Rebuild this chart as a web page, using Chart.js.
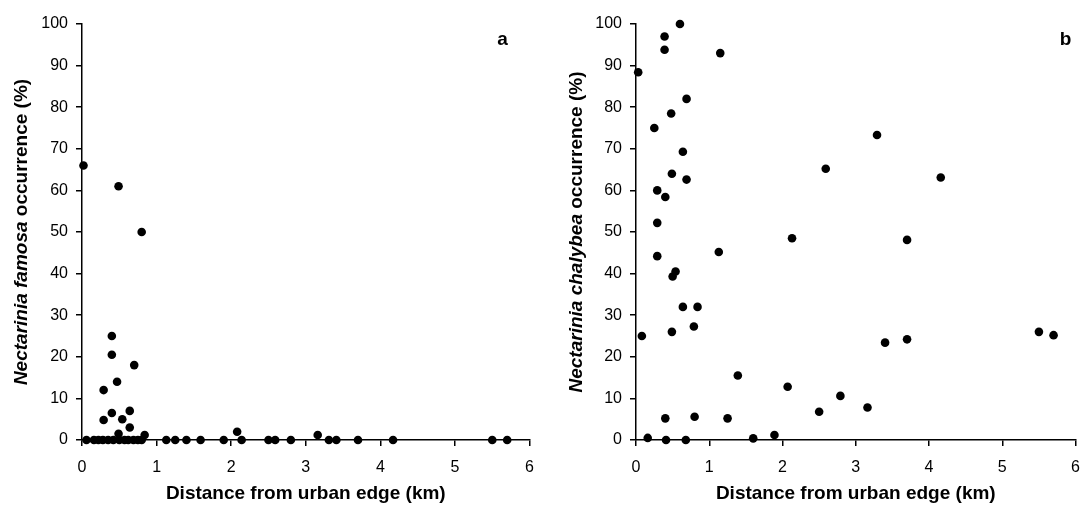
<!DOCTYPE html>
<html lang="en">
<head>
<meta charset="UTF-8">
<title>Nectarinia occurrence vs distance from urban edge</title>
<script src="https://cdn.jsdelivr.net/npm/chart.js"></script>
<style>
  body { margin: 0; background: #fff; }
  #wrap { position: relative; width: 1092px; height: 505px; }
  canvas { position: absolute; top: 0; }
</style>
</head>
<body>
<div id="wrap">
  <canvas id="chartA" width="546" height="505" style="left:0"></canvas>
  <canvas id="chartB" width="546" height="505" style="left:546px"></canvas>
</div>
<script>
// panel a: Nectarinia famosa
const aX = [0.02, 0.49, 0.80, 0.40, 0.40, 0.70, 0.47, 0.29, 0.40, 0.64, 0.29, 0.54, 0.64, 0.49, 0.84, 2.08, 3.16,
            0.06, 0.16, 0.22, 0.28, 0.35, 0.42, 0.50, 0.57, 0.62, 0.69, 0.75, 0.80, 1.13, 1.25, 1.40,
            1.59, 1.90, 2.14, 2.50, 2.59, 2.80, 3.31, 3.41, 3.70, 4.17, 5.50, 5.70];
const aY = [66, 61, 50, 25, 20.5, 18, 14, 12, 6.5, 7, 4.8, 5, 3, 1.5, 1.2, 2, 1.2,
            0, 0, 0, 0, 0, 0, 0, 0, 0, 0, 0, 0, 0, 0, 0,
            0, 0, 0, 0, 0, 0, 0, 0, 0, 0, 0, 0];

// panel b: Nectarinia chalybea
const bX = [0.60, 0.39, 0.39, 1.15, 0.03, 0.69, 0.48, 0.25, 0.64, 0.49, 0.69, 0.29, 0.40, 0.29, 2.13,
            2.59, 0.29, 1.13, 0.50, 0.54, 0.64, 0.84, 0.79, 0.49, 0.08, 1.39, 2.07, 2.50, 0.40, 0.80,
            1.25, 0.16, 0.41, 0.68, 1.60, 1.89, 3.29, 4.16, 3.70, 3.40, 3.70, 5.50, 5.70, 2.79, 3.16];
const bY = [100, 97, 93.8, 93, 88.4, 82, 78.5, 75, 69.3, 64, 62.6, 60, 58.4, 52.2, 48.5,
            65.2, 44.2, 45.2, 39.3, 40.5, 32, 32, 27.3, 26, 25, 15.5, 12.8, 6.8, 5.2, 5.6,
            5.2, 0.5, 0, 0, 0.4, 1.2, 73.3, 63.1, 48.1, 23.4, 24.2, 26, 25.2, 10.6, 7.8];

const xTitle = 'Distance from urban edge (km)';
const FONT = '"Liberation Sans", Arial, sans-serif';

Chart.defaults.font.family = FONT;
Chart.defaults.color = '#000';

// y title with italic species name + panel letter
const sideLabels = {
  id: 'sideLabels',
  afterDraw(chart, args, opts) {
    const ctx = chart.ctx, area = chart.chartArea;
    ctx.save();
    ctx.fillStyle = '#000';
    ctx.textBaseline = 'middle';
    ctx.textAlign = 'left';
    ctx.translate(opts.titleX, (area.top + area.bottom) / 2);
    ctx.rotate(-Math.PI / 2);
    const parts = [
      [opts.species, 'italic bold 19px ' + FONT],
      [' occurrence (%)', 'bold 19px ' + FONT]
    ];
    let total = 0;
    parts.forEach(p => { ctx.font = p[1]; total += ctx.measureText(p[0]).width; });
    let x = -total / 2;
    parts.forEach(p => { ctx.font = p[1]; ctx.fillText(p[0], x, 0); x += ctx.measureText(p[0]).width; });
    ctx.restore();

    ctx.save();
    ctx.fillStyle = '#000';
    ctx.font = 'bold 19px ' + FONT;
    ctx.textAlign = 'center';
    ctx.textBaseline = 'middle';
    ctx.fillText(opts.letter, area.right - opts.letterOffset, area.top + 16);
    ctx.restore();
  }
};

function makeScales(yWidth) {
  return {
    x: {
      type: 'linear', min: 0, max: 6,
      ticks: { stepSize: 1, font: { size: 16 }, padding: 12 },
      grid: { display: true, drawOnChartArea: false, drawTicks: true, tickLength: 6, color: '#000', lineWidth: 1.5 },
      border: { color: '#000', width: 1.5 },
      title: { display: true, text: xTitle, font: { size: 19, weight: 'bold' }, padding: { top: 0, bottom: 0 } },
      afterFit: s => { s.height = 65; }
    },
    y: {
      type: 'linear', min: 0, max: 100,
      ticks: { stepSize: 10, font: { size: 16 }, padding: 8 },
      grid: { display: true, drawOnChartArea: false, drawTicks: true, tickLength: 6, color: '#000', lineWidth: 1.5 },
      border: { color: '#000', width: 1.5 },
      afterFit: s => { s.width = yWidth; }
    }
  };
}

function makeChart(id, xs, ys, species, letter, letterOffset, yWidth, padRight, titleX) {
  const pts = xs.map((x, i) => ({ x: x, y: ys[i] }));
  return new Chart(document.getElementById(id), {
    type: 'scatter',
    data: {
      datasets: [{
        data: pts,
        backgroundColor: '#000',
        borderColor: '#000',
        borderWidth: 0,
        pointRadius: 4.3,
        clip: false
      }]
    },
    options: {
      responsive: false,
      animation: false,
      layout: { padding: { top: 24, right: padRight, bottom: 0, left: 0 } },
      scales: makeScales(yWidth),
      plugins: {
        legend: { display: false },
        tooltip: { enabled: false },
        sideLabels: { species: species, letter: letter, letterOffset: letterOffset, titleX: titleX }
      }
    },
    plugins: [sideLabels]
  });
}

makeChart('chartA', aX, aY, 'Nectarinia famosa', 'a', 27, 82, 11, 22);
makeChart('chartB', bX, bY, 'Nectarinia chalybea', 'b', 10, 90, 2.5, 31);
</script>
</body>
</html>
